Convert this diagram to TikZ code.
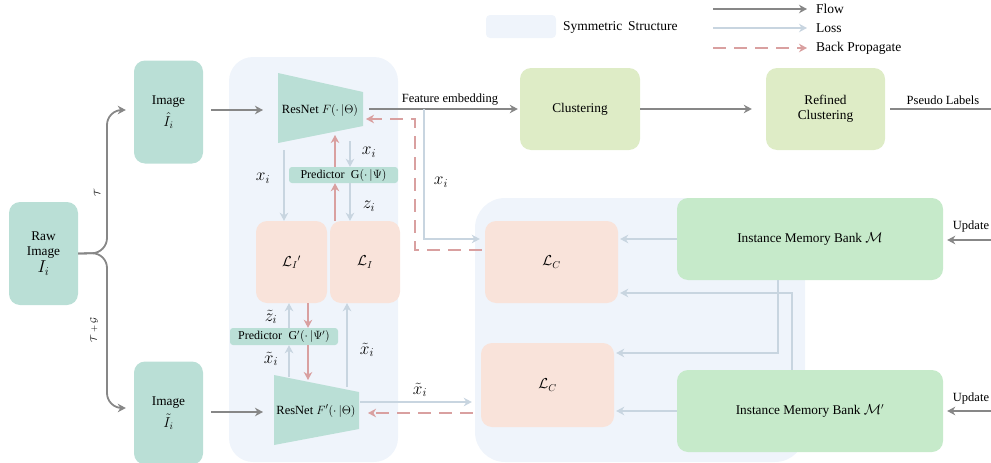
\documentclass[tikz,border=0pt]{standalone}
\usepackage{fontspec}
\setmainfont{Liberation Serif}
\usetikzlibrary{arrows.meta}
\definecolor{tealbox}{RGB}{186,223,214}
\definecolor{regionblue}{RGB}{239,244,251}
\definecolor{peach}{RGB}{249,227,218}
\definecolor{clustergreen}{RGB}{222,236,198}
\definecolor{bankgreen}{RGB}{198,234,202}
\definecolor{flowgray}{RGB}{135,135,135}
\definecolor{lossblue}{RGB}{200,213,224}
\definecolor{backred}{RGB}{217,160,160}
\tikzset{
  box/.style={rounded corners=11pt, inner sep=2pt, align=center, font=\fontsize{13.3}{15}\selectfont},
  imgbox/.style={box, fill=tealbox, minimum width=69pt, minimum height=103pt},
  lossbox/.style={box, fill=peach, font=\fontsize{14}{16}\selectfont},
  predbox/.style={rounded corners=3pt, fill=tealbox, inner sep=0pt, font=\fontsize{12}{13}\selectfont},
  tip/.style={-{Stealth[length=8pt,width=8.5pt,inset=2.5pt]}},
  flow/.style={draw=flowgray, line width=1.8pt, tip},
  loss/.style={draw=lossblue, line width=1.8pt, tip},
  back/.style={draw=backred, line width=1.8pt, tip},
  backdash/.style={back, dash pattern=on 13pt off 8pt},
  lbl/.style={inner sep=0pt, font=\fontsize{18}{18}\selectfont},
  small/.style={inner sep=0pt, font=\fontsize{12.5}{14}\selectfont},
  legtext/.style={anchor=west, inner sep=0pt, font=\fontsize{13.5}{15}\selectfont},
}
\begin{document}
\begin{tikzpicture}[x=1pt, y=-1pt]
\useasboundingbox (0,0) rectangle (991,463);

% symmetric regions
\fill[regionblue, rounded corners=24pt] (229,57) rectangle (398,462);
\fill[regionblue, rounded corners=30pt] (475,198) rectangle (805,462);

% legend
\fill[regionblue, rounded corners=4pt] (486,15) rectangle (556,38);
\node[legtext] (legsym) at (563,27) {Symmetric\, Structure};
\coordinate (lf0) at (713,9);  \coordinate (lf1) at (807,9);
\coordinate (ll0) at (713,28); \coordinate (ll1) at (807,28);
\coordinate (lb0) at (713,48); \coordinate (lb1) at (807,48);
\draw[flow] (lf0) -- (lf1);
\draw[loss] (ll0) -- (ll1);
\draw[backdash] (lb0) -- (lb1);
\node[legtext] (legflow) at (816,9) {Flow};
\node[legtext] (legloss) at (816,28) {Loss};
\node[legtext] (legback) at (816,48) {Back Propagate};

% input images
\node[imgbox] (raw) at (43.5,253.5) {Raw\\Image\\[2pt]{\fontsize{17}{17}\selectfont $I_i$}};
\node[imgbox] (img1) at (168.5,112) {Image\\[5pt]{\fontsize{14}{14}\selectfont $\hat{I}_i$}};
\node[imgbox] (img2) at (168.5,413) {Image\\[5pt]{\fontsize{14}{14}\selectfont $\tilde{I}_i$}};

% augmentation branches
\draw[flow, rounded corners=15pt, shorten >=8pt] (raw.east) -- (107,253) -- (107,110) -- (img1.west |- 0,110);
\draw[flow, rounded corners=15pt, shorten >=8pt] (raw.east) -- (107,253) -- (107,408) -- (img2.west |- 0,408);
\node[rotate=90, inner sep=0pt, font=\small] (tlab) at (97,193) {$\mathcal{T}$};
\node[rotate=90, inner sep=0pt, font=\small] (tglab) at (94,330) {$\mathcal{T}+\mathcal{G}$};

% encoders
\fill[tealbox] (278,73) -- (363,92) -- (363,126) -- (278,143) -- cycle;
\node[inner sep=0pt, font=\fontsize{12.5}{13}\selectfont] (resF) at (320,110) {ResNet $F(\cdot\,|\Theta)$};
\fill[tealbox] (274,375) -- (359,392) -- (359,429) -- (274,445) -- cycle;
\node[inner sep=0pt, font=\fontsize{12.5}{13}\selectfont] (resFp) at (316,411) {ResNet $F'(\cdot\,|\Theta)$};

\coordinate (in1a) at (211,110); \coordinate (in1b) at (263,110);
\coordinate (in2a) at (211,412); \coordinate (in2b) at (263,412);
\draw[flow] (in1a) -- (in1b);
\draw[flow] (in2a) -- (in2b);

% predictors and instance losses
\node[predbox, minimum width=109pt, minimum height=16pt] (pred) at (343.5,175) {Predictor\; G$(\cdot\,|\Psi)$};
\node[predbox, minimum width=108pt, minimum height=17pt] (predp) at (284,336.5) {Predictor\; G$'(\cdot\,|\Psi')$};
\node[lossbox, minimum width=71pt, minimum height=82pt] (lip) at (291.5,262) {$\mathcal{L}_I{}'$};
\node[lossbox, minimum width=70pt, minimum height=82pt] (li) at (365,262) {$\mathcal{L}_I$};

% upper branch arrows
\draw[loss] (284,150) -- (lip.north -| 284,0);
\node[lbl] (xa) at (263,178) {$x_i$};
\draw[loss] (350,141) -- (pred.north -| 350,0);
\node[lbl] (xb) at (369,152) {$x_i$};
\draw[loss] (pred.south -| 350,0) -- (li.north -| 350,0);
\node[lbl] (za) at (369,206) {$z_i$};
\draw[back] (pred.north -| 335,0) -- (335,135);
\draw[back] (li.north -| 335,0) -- (pred.south -| 335,0);

% lower branch arrows
\draw[loss] (predp.north -| 289,0) -- (lip.south -| 289,0);
\node[lbl] (zb) at (271,317) {$\tilde{z}_i$};
\draw[loss] (289,377) -- (predp.south -| 289,0);
\node[lbl] (xc) at (271,359) {$\tilde{x}_i$};
\draw[loss] (347,387) -- (li.south -| 347,0);
\node[lbl] (xd) at (367,350) {$\tilde{x}_i$};
\draw[back] (lip.south -| 308,0) -- (predp.north -| 308,0);
\draw[back] (predp.south -| 308,0) -- (308,380);

% clustering pipeline
\node[box, fill=clustergreen, minimum width=120pt, minimum height=82pt] (clus) at (580,109) {Clustering};
\node[box, fill=clustergreen, minimum width=119pt, minimum height=82pt] (rclus) at (825.5,109) {Refined\\Clustering};
\coordinate (fe0) at (369,109);
\draw[flow, shorten >=2pt] (fe0) -- (clus.west);
\node[small] (felab) at (450,100) {Feature embedding};
\draw[flow, shorten >=14pt] (clus.east) -- (rclus.west);
\coordinate (pl1) at (991,109);
\draw[draw=flowgray, line width=1.8pt, shorten <=5pt] (rclus.east) -- (pl1);
\node[small] (pllab) at (943,100) {Pseudo Labels};

% contrastive losses and memory banks
\node[lossbox, minimum width=133pt, minimum height=82pt] (lc1) at (551.5,262) {$\mathcal{L}_C$};
\node[lossbox, minimum width=133pt, minimum height=84pt] (lc2) at (547.5,385) {$\mathcal{L}_C$};
\node[box, fill=bankgreen, minimum width=266pt, minimum height=82pt] (mb) at (810,239) {Instance Memory Bank $\mathcal{M}$};
\node[box, fill=bankgreen, minimum width=266pt, minimum height=82pt] (mbp) at (810,411) {Instance Memory Bank $\mathcal{M}'$};

\coordinate (fe1) at (424,109);
\draw[loss, shorten >=5pt] (fe1) -- (424,239) -- (lc1.west |- 0,239);
\node[lbl] (xe) at (441,182) {$x_i$};
\draw[backdash, shorten <=3pt] (lc1.west |- 0,250) -- (415,250) -- (415,119) -- (366,119);

\draw[loss, shorten >=9pt] (resFp.east |- 0,402) ++(4,0) -- (lc2.west |- 0,402);
\node[lbl] (xf) at (420,390) {$\tilde{x}_i$};
\draw[backdash, shorten <=8pt] (lc2.west |- 0,413) -- (368,413);

\draw[loss, shorten >=2pt] (mb.west) -- (lc1.east |- mb.west);
\draw[loss, shorten >=2pt] (mb.south -| 778,0) -- (778,353) -- (lc2.east |- 0,353);
\draw[loss, shorten >=2pt] (mbp.north -| 792,0) -- (792,293) -- (lc1.east |- 0,293);
\draw[loss, shorten >=2pt] (mbp.west) -- (lc2.east |- mbp.west);

\coordinate (up1) at (991,240);
\coordinate (up2) at (991,411);
\draw[flow, shorten >=4pt] (up1) -- (mb.east |- up1);
\draw[flow, shorten >=4pt] (up2) -- (mbp.east |- up2);
\node[small] (uplab1) at (971,226) {Update};
\node[small] (uplab2) at (971,398) {Update};
\end{tikzpicture}
\end{document}
